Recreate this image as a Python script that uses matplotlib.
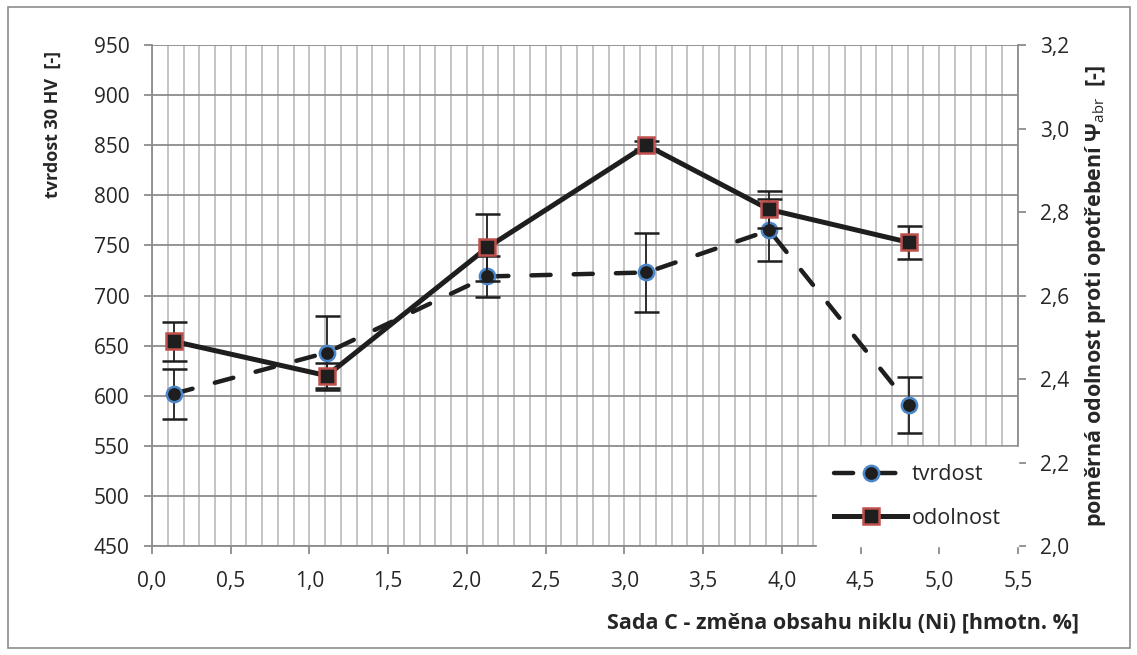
import matplotlib
matplotlib.use("Agg")
import matplotlib.pyplot as plt
from matplotlib.patches import Rectangle
from matplotlib.lines import Line2D
from matplotlib.ticker import MultipleLocator, FuncFormatter

plt.rcParams['font.family'] = ['Open Sans', 'DejaVu Sans']
plt.rcParams['mathtext.fontset'] = 'custom'
plt.rcParams['mathtext.rm'] = 'Open Sans'
plt.rcParams['mathtext.it'] = 'Open Sans:italic'
plt.rcParams['mathtext.bf'] = 'Open Sans:bold'

# data
ni = [0.14, 1.11, 2.13, 3.14, 3.92, 4.81]
tvrdost = [602, 643, 719, 723, 765, 591]
tvrdost_err = [25, 37, 20, 39, 31, 28]
odolnost = [2.49, 2.408, 2.715, 2.96, 2.806, 2.727]
odolnost_err = [0.047, 0.03, 0.08, 0.01, 0.045, 0.04]

xlabel = 'Sada C - změna obsahu niklu (Ni) [hmotn. %]'
ylabel_left = 'tvrdost 30 HV  [-]'
ylabel_right = r'poměrná odolnost proti opotřebení $\mathbf{\Psi}_{\mathrm{abr}}$  [-]'

fig = plt.figure(figsize=(11.37, 6.55), dpi=100)
ax = fig.add_axes([0.1337, 0.1664, 0.7616, 0.7649])
ax2 = ax.twinx()

grid_major = '#8c8c8c'
grid_minor = '#bfbfbf'
txt = '#262626'
dark = '#1e1e1e'

ax.set_xlim(0, 5.5)
ax.set_ylim(450, 950)
ax2.set_ylim(2.0, 3.2)
ax.xaxis.set_major_locator(MultipleLocator(0.5))
ax.xaxis.set_minor_locator(MultipleLocator(0.1))
ax.yaxis.set_major_locator(MultipleLocator(50))
ax2.yaxis.set_major_locator(MultipleLocator(0.2))

comma = lambda fmt: FuncFormatter(lambda v, p: (fmt % v).replace('.', ','))
ax.xaxis.set_major_formatter(comma('%.1f'))
ax2.yaxis.set_major_formatter(comma('%.1f'))

ax.grid(which='minor', axis='x', color=grid_minor, lw=1.3)
ax.grid(which='major', axis='x', color=grid_minor, lw=1.3)
ax.grid(which='major', axis='y', color=grid_major, lw=1.3)
ax.set_axisbelow(True)

for a in (ax, ax2):
    for s in a.spines.values():
        s.set_visible(False)
for a, side in ((ax, 'left'), (ax, 'bottom'), (ax2, 'right')):
    a.spines[side].set_visible(True)
    a.spines[side].set_color(grid_major)
    a.spines[side].set_linewidth(1.3)

ax.tick_params(axis='both', which='major', direction='out', length=6, width=1.3,
               color=grid_major, labelsize=15, labelcolor=txt)
ax.tick_params(axis='x', which='major', pad=12)
ax.tick_params(axis='y', which='major', pad=10)
ax.tick_params(axis='x', which='minor', length=0)
ax2.tick_params(axis='y', which='major', direction='out', length=6, width=1.3,
                color=grid_major, labelsize=15, labelcolor=txt, pad=10)

tv_style = dict(color=dark, lw=3.2, ls=(0, (4.3, 5.2)), marker='o', ms=11,
                mfc=dark, mec='#4a86c8', mew=1.8)
od_style = dict(color=dark, lw=3.6, ls='-', marker='s', ms=11.5,
                mfc=dark, mec='#c0504d', mew=1.8)

l1 = ax.errorbar(ni, tvrdost, yerr=tvrdost_err, ecolor=dark, elinewidth=1.3,
                 capsize=9, capthick=1.3, zorder=3, **tv_style)
l1[0].set_dash_capstyle('round')
l2 = ax2.errorbar(ni, odolnost, yerr=odolnost_err, ecolor=dark, elinewidth=1.3,
                  capsize=9, capthick=1.3, zorder=3, **od_style)

ax.set_xlabel(xlabel, fontsize=15.5, fontweight='bold', color=txt)
ax.xaxis.set_label_coords(1.07, -0.153)
ax.xaxis.label.set_horizontalalignment('right')
ax.xaxis.label.set_verticalalignment('center')
ax.set_ylabel(ylabel_left, fontsize=13, fontweight='bold', color=txt)
ax.yaxis.set_label_coords(-0.114, 0.842)
ax.yaxis.label.set_verticalalignment('center')
ax2.set_ylabel(ylabel_right, fontsize=15.5, fontweight='bold', color=txt)
ax2.yaxis.set_label_coords(1.09, 0.50)
ax2.yaxis.label.set_verticalalignment('center')

h1 = Line2D([], [], **tv_style)
h1.set_dash_capstyle('round')
h2 = Line2D([], [], **od_style)
leg = ax2.legend([h1, h2], ['tvrdost', 'odolnost'], loc='lower right',
                 bbox_to_anchor=(1.0, 0.0), frameon=True, fontsize=15.5,
                 handlelength=3.4, borderpad=0.8, labelspacing=1.05,
                 handletextpad=0.2, borderaxespad=0.0, fancybox=False)
leg.get_frame().set_edgecolor('white')
leg.get_frame().set_facecolor('white')
leg.get_frame().set_alpha(1.0)
leg.set_zorder(10)
for t in leg.get_texts():
    t.set_color(txt)

fig.patches.append(Rectangle((8 / 1137, 7 / 655), 1122 / 1137, 641 / 655,
                             transform=fig.transFigure, fill=False,
                             edgecolor='#8c8c8c', lw=1.2))

fig.savefig('out.png', dpi=100)
